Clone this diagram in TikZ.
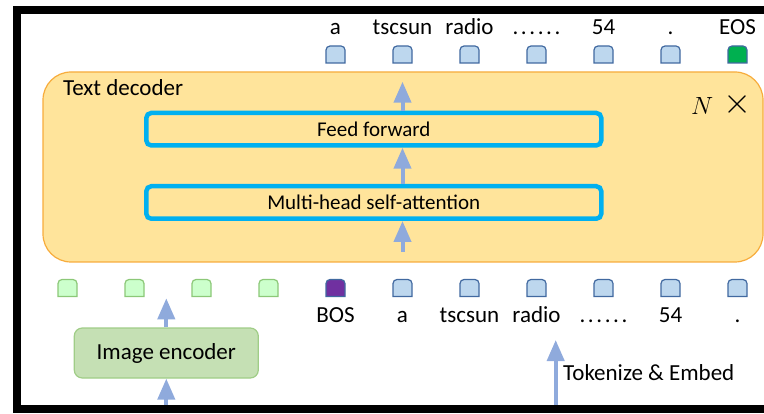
\documentclass[tikz,border=0pt]{standalone}
\usepackage{fontspec}
\setmainfont{Carlito}
\usetikzlibrary{arrows.meta}

\definecolor{flow}{RGB}{143,170,220}
\definecolor{tokfill}{RGB}{189,215,238}
\definecolor{tokedge}{RGB}{65,105,160}
\definecolor{imgfill}{RGB}{204,255,204}
\definecolor{imgedge}{RGB}{140,200,120}
\definecolor{bosfill}{RGB}{112,48,160}
\definecolor{eosfill}{RGB}{0,176,80}
\definecolor{encfill}{RGB}{197,224,180}
\definecolor{encedge}{RGB}{160,205,135}
\definecolor{decfill}{RGB}{255,228,155}
\definecolor{decedge}{RGB}{247,172,60}
\definecolor{layeredge}{RGB}{0,176,240}

% one token: a small box with rounded top corners
\newcommand\tokbox[5]{% name, x, y, fill, border
  \node[tokslot] (#1) at (#2,#3) {};
  \filldraw[line width=1.2pt, draw=#5, fill=#4]
    (#1.south west) -- ([yshift=-4pt]#1.north west)
    arc[start angle=180, end angle=90, radius=4pt]
    -- ([xshift=-4pt]#1.north east)
    arc[start angle=90, end angle=0, radius=4pt]
    -- (#1.south east) -- cycle;
}
% widely spaced ellipsis
\newcommand\wideellipsis{.\kern2.6pt.\kern2.6pt.\kern2.6pt.\kern2.6pt.\kern2.6pt.}

\begin{document}
\begin{tikzpicture}[x=1pt, y=1pt,
  tokslot/.style={minimum width=19pt, minimum height=17pt, inner sep=0pt, outer sep=0pt},
  toklabel/.style={font=\fontsize{23}{27}\selectfont, inner sep=0pt, anchor=base},
  layer/.style={draw=layeredge, line width=4.5pt, rounded corners=5pt,
    minimum width=455pt, minimum height=32.5pt, inner sep=0pt,
    font=\fontsize{21}{25}\selectfont},
  flowarrow/.style={draw=flow, line width=4pt, -{Triangle[length=21pt, width=17pt]}},
  frame/.style={fill=black}
]
\useasboundingbox (0,0) rectangle (764,413);

% decoder block
\node[draw=decedge, fill=decfill, line width=1.2pt, rounded corners=28pt,
      minimum width=720pt, minimum height=190pt, inner sep=0pt] (dec) at (403,246) {};
\node[font=\fontsize{23}{27}\selectfont, inner sep=0pt, anchor=base west] (declabel) at (63,317) {Text decoder};
\node[font=\fontsize{23}{27}\selectfont, inner sep=0pt, anchor=base west] (reps) at (691,298.5)
  {$N$\hspace{10pt}\raisebox{0.5pt}{\scalebox{1.45}{$\times$}}};

\node[layer] (ff) at (373.8,283.8) {Feed forward};
\node[layer] (mhsa) at (373.8,210.5) {Multi-head self-attention};

% input token row
\foreach \i in {0,...,3} {
  \tokbox{b\i}{67.5+67*\i}{125}{imgfill}{imgedge}
}
\tokbox{b4}{335.5}{125}{bosfill}{tokedge}
\foreach \i in {5,...,10} {
  \tokbox{b\i}{67.5+67*\i}{125}{tokfill}{tokedge}
}
\foreach \lab [count=\i from 4] in {BOS,a,tscsun,radio,\wideellipsis,54,.} {
  \node[toklabel] (bl\i) at (67.5+67*\i,90) {\lab};
}

% output token row
\foreach \i in {4,...,9} {
  \tokbox{t\i}{67.5+67*\i}{358.5}{tokfill}{tokedge}
}
\tokbox{t10}{737.5}{358.5}{eosfill}{tokedge}
\foreach \lab [count=\i from 4] in {a,tscsun,radio,\wideellipsis,54,.,EOS} {
  \node[toklabel] (tl\i) at (67.5+67*\i,378) {\lab};
}

% image encoder
\node[draw=encedge, fill=encfill, line width=1.2pt, rounded corners=8pt,
      minimum width=184pt, minimum height=50pt, inner sep=0pt,
      font=\fontsize{23}{27}\selectfont] (enc) at (166.3,60) {Image encoder};

% arrows
\coordinate (outtip) at (402.5,331.3);
\coordinate (intail) at (402.5,161.3);
\coordinate (imgsrc) at (166.3,4);
\coordinate (imgtip) at (166.3,114.7);
\coordinate (txtsrc) at (555.7,4);
\coordinate (txttip) at (555.7,73);

\draw[flowarrow] (ff.north -| outtip) -- (outtip);
\draw[flowarrow] (mhsa.north -| outtip) -- (ff.south -| outtip);
\draw[flowarrow] (intail) -- (mhsa.south -| intail);
\draw[flowarrow] (enc.north) -- (imgtip);
\draw[flowarrow] (imgsrc) -- (enc.south);
\draw[flowarrow] (txtsrc) -- (txttip);
\node[font=\fontsize{23}{27}\selectfont, inner sep=0pt, anchor=base west] (tok) at (563,33) {Tokenize \& Embed};

% outer frame
\fill[frame] (13,399) rectangle (764,407);
\fill[frame] (13,0) rectangle (21,407);
\fill[frame] (13,0) rectangle (764,8);
\end{tikzpicture}
\end{document}
